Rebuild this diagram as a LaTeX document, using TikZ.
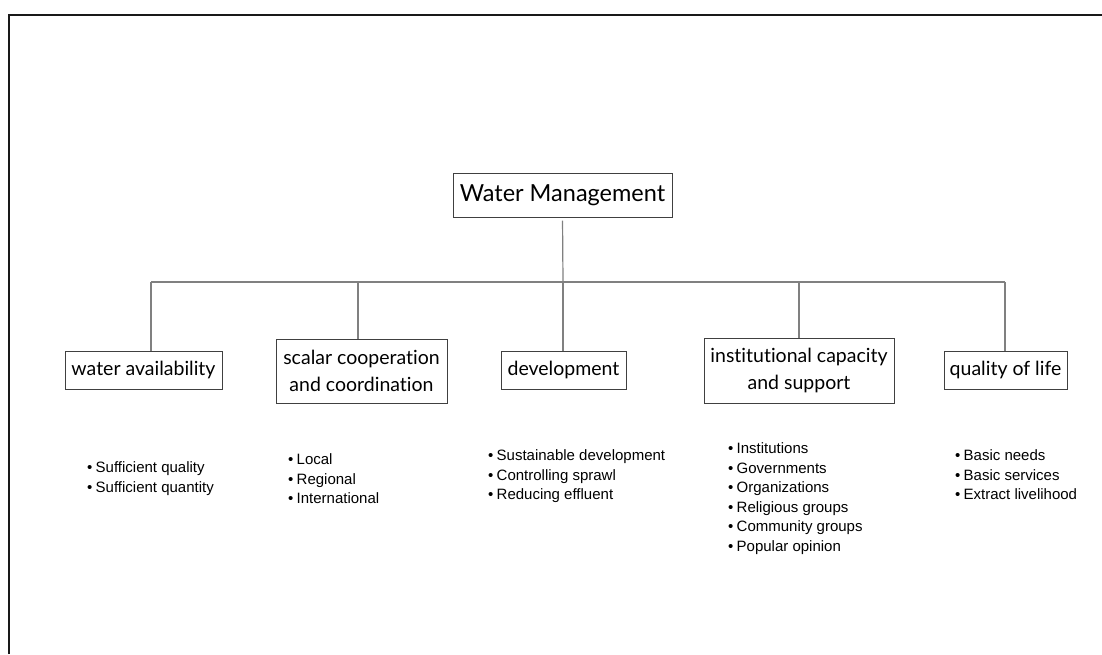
\documentclass[tikz,border=0pt]{standalone}
\usepackage{fontspec}
\setmainfont{Lato}[Ligatures=CommonOff]
\newfontfamily\helv{Liberation Sans}
\newcommand\bitem[1]{\makebox[8.5pt][l]{•}#1}
\tikzset{
  box/.style={draw=black!75, line width=1pt, inner sep=0pt, align=center,
    font=\fontsize{19.5}{27}\selectfont},
  conn/.style={draw=black!50, line width=1.2pt},
  items/.style={anchor=north west, align=left, inner sep=0pt,
    font=\helv\fontsize{15}{19.5}\selectfont},
  frame/.style={line width=2pt, draw=black!90}
}
\begin{document}
\begin{tikzpicture}[x=1pt,y=-1pt]
\useasboundingbox (0,0) rectangle (1102,654);
\draw[frame] (9,654) -- (9,15) -- (1102,15);

\node[box, minimum width=219, minimum height=44, font=\fontsize{23.5}{30}\selectfont] (wm) at (562.5,195) {Water Management};
\node[box, minimum width=157, minimum height=38] (wa) at (143.5,370) {water availability};
\node[box, minimum width=171, minimum height=64] (sc) at (361.5,371) {scalar cooperation\\and coordination};
\node[box, minimum width=125, minimum height=38] (dv) at (563.5,370) {development};
\node[box, minimum width=190, minimum height=65] (ic) at (799,370.5) {institutional capacity\\and support};
\node[box, minimum width=123, minimum height=38] (ql) at (1005.5,370) {quality of life};

\coordinate (b1) at (151,282);
\coordinate (b2) at (358,282);
\coordinate (b3) at (563,282);
\coordinate (b4) at (799,282);
\coordinate (b5) at (1005,282);

\draw[conn, shorten <=3pt] (wm.south) -- (b3);
\draw[conn] (b1) -- (b5);
\draw[conn] (b1) -- (b1 |- wa.north);
\draw[conn] (b2) -- (b2 |- sc.north);
\draw[conn] (b3) -- (b3 |- dv.north);
\draw[conn] (b4) -- (b4 |- ic.north);
\draw[conn] (b5) -- (b5 |- ql.north);

\node[items] (l1) at (87,461.5) {\bitem{Sufficient quality}\\\bitem{Sufficient quantity}};
\node[items] (l2) at (288,453.5) {\bitem{Local}\\\bitem{Regional}\\\bitem{International}};
\node[items] (l3) at (488,449.5) {\bitem{Sustainable development}\\\bitem{Controlling sprawl}\\\bitem{Reducing effluent}};
\node[items] (l4) at (728,442.5) {\bitem{Institutions}\\\bitem{Governments}\\\bitem{Organizations}\\\bitem{Religious groups}\\\bitem{Community groups}\\\bitem{Popular opinion}};
\node[items] (l5) at (955,449.5) {\bitem{Basic needs}\\\bitem{Basic services}\\\bitem{Extract livelihood}};
\end{tikzpicture}
\end{document}
